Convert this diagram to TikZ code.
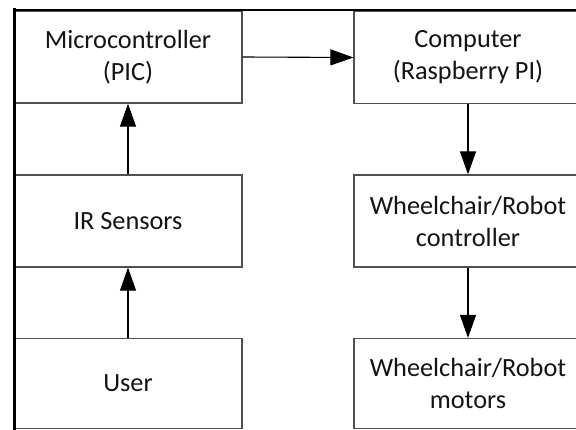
\documentclass[tikz,border=0pt]{standalone}
\usepackage{fontspec}
\setmainfont{Carlito}
\usetikzlibrary{arrows.meta}
\definecolor{boxline}{RGB}{80,80,80}
\definecolor{txt}{RGB}{20,20,20}
\tikzset{
  blk/.style={draw=boxline, line width=1.2pt, fill=white, inner sep=0pt,
    minimum width=228pt, minimum height=92pt, align=center, text=txt,
    font=\fontsize{26.3}{32}\selectfont},
  flow/.style={draw=black, line width=1.1pt, -{Triangle[length=23pt,width=16pt]}},
  frame/.style={draw=black, line cap=rect}
}
\begin{document}
\begin{tikzpicture}[x=1pt,y=-1pt]
\useasboundingbox (0,0) rectangle (576,430);
\clip (0,0) rectangle (576,430);
\node[blk] (micro) at (128,57) {Microcontroller\\(PIC)};
\node[blk] (comp) at (468,57.5) {Computer\\(Raspberry PI)};
\node[blk] (ir) at (128,221) {IR Sensors};
\node[blk] (ctrl) at (468,221) {Wheelchair/Robot\\controller};
\node[blk, minimum height=90pt] (user) at (128,383.5) {User};
\node[blk, minimum height=90pt] (motors) at (468,383.5) {Wheelchair/Robot\\motors};
\draw[flow] (micro.east) -- (comp.west);
\draw[flow] (comp.south) -- (ctrl.north);
\draw[flow] (ctrl.south) -- (motors.north);
\draw[flow] (ir.north) -- (micro.south);
\draw[flow] (user.north) -- (ir.south);
\coordinate (ftl) at (14,10);
\coordinate (ftr) at (576,10);
\coordinate (fbl) at (14,430);
\draw[frame, line width=2pt] (ftl) -- (ftr);
\draw[frame, line width=3pt] (ftl) -- (fbl);
\end{tikzpicture}
\end{document}
